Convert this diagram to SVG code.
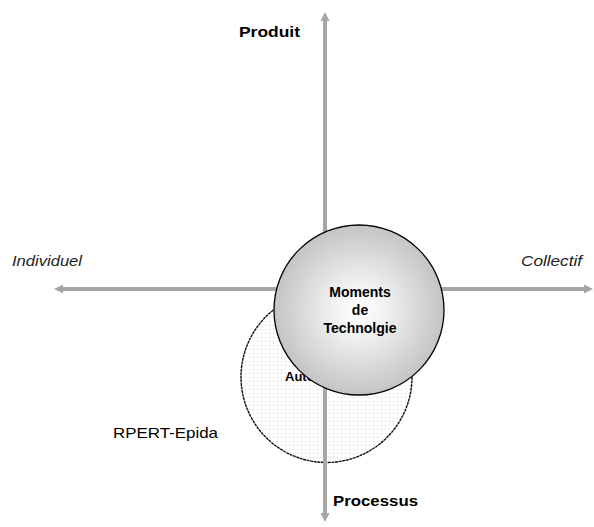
<svg xmlns="http://www.w3.org/2000/svg" width="594" height="527" viewBox="0 0 594 527">
<style>
.ax{stroke:#a6a6a6;stroke-width:4;fill:none}
.lb{font-family:"Liberation Sans",Arial,sans-serif;fill:#000}
.b{font-weight:bold}
.i{font-style:italic;fill:#222}
</style>
<defs>
<pattern id="dots" width="4" height="4" patternUnits="userSpaceOnUse">
<rect width="4" height="4" fill="#fff"/>
<rect x="1" y="1" width="1" height="1" fill="#d4d4d4"/>
</pattern>
<radialGradient id="gr" cx="0.5" cy="0.5" r="0.5">
<stop offset="0" stop-color="#ffffff"/>
<stop offset="0.3" stop-color="#f2f2f2"/>
<stop offset="1" stop-color="#c4c4c4"/>
</radialGradient>
<marker id="ah" markerWidth="10" markerHeight="10" refX="2" refY="5" orient="auto" markerUnits="userSpaceOnUse">
<path d="M0,0.5 L9,5 L0,9.5 Z" fill="#a6a6a6"/>
</marker>
</defs>
<rect width="594" height="527" fill="#fff"/>
<g id="autonomie">
<circle cx="326.5" cy="377" r="85.5" fill="url(#dots)" stroke="#111" stroke-width="1.4" stroke-dasharray="3,0.6"/>
<text class="lb b" x="285" y="381" font-size="13">Autonomie</text>
</g>
<g id="connectors">
<line class="ax" x1="325" y1="300" x2="325" y2="19" marker-end="url(#ah)"/>
<line class="ax" x1="325" y1="300" x2="325" y2="515" marker-end="url(#ah)"/>
<line class="ax" x1="360" y1="289" x2="61" y2="289" marker-end="url(#ah)"/>
<line class="ax" x1="360" y1="289" x2="586" y2="289" marker-end="url(#ah)"/>
</g>
<g id="moments">
<circle cx="359" cy="310" r="85" fill="url(#gr)" stroke="#000" stroke-width="1.3"/>
<text class="lb b" x="360" y="297" font-size="14" text-anchor="middle" fill="#111">Moments</text>
<text class="lb b" x="360" y="315" font-size="14" text-anchor="middle" fill="#111">de</text>
<text class="lb b" x="360" y="333" font-size="14" text-anchor="middle" fill="#111">Technolgie</text>
</g>
<g id="labels">
<text class="lb b" x="239" y="37" font-size="15" textLength="61" lengthAdjust="spacingAndGlyphs">Produit</text>
<text class="lb b" x="333" y="506" font-size="15" textLength="85" lengthAdjust="spacingAndGlyphs">Processus</text>
<text class="lb i" x="12" y="266" font-size="15" textLength="70" lengthAdjust="spacingAndGlyphs">Individuel</text>
<text class="lb i" x="521" y="266" font-size="15" textLength="61" lengthAdjust="spacingAndGlyphs">Collectif</text>
<text class="lb" x="113" y="438" font-size="15" textLength="105" lengthAdjust="spacingAndGlyphs" fill="#222">RPERT-Epida</text>
</g>
</svg>
